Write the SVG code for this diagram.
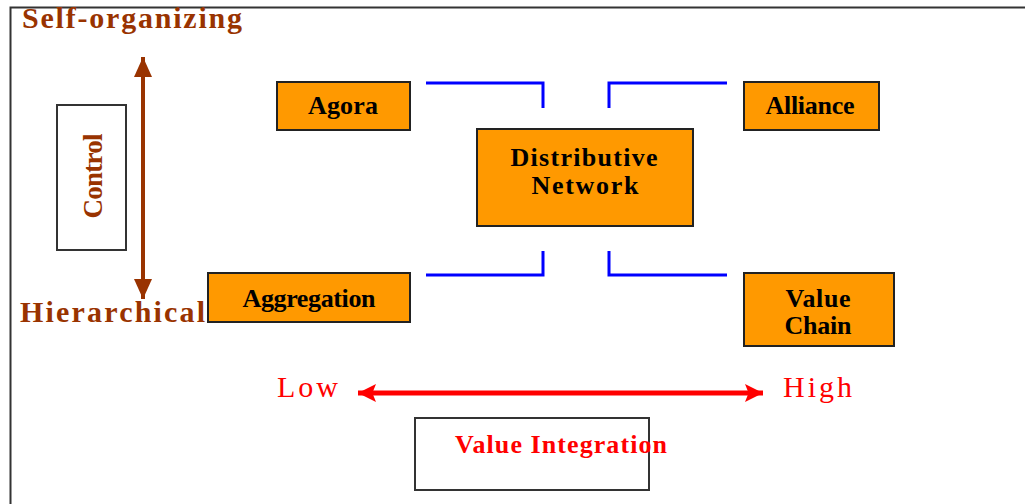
<svg xmlns="http://www.w3.org/2000/svg" width="1025" height="504" viewBox="0 0 1025 504">
  <style>
    .box { fill: #ff9900; stroke: #222; stroke-width: 2; }
    .plain { fill: #fff; stroke: #333; stroke-width: 2; }
    .lbl { font-family: "Liberation Serif", "Times New Roman", serif; font-weight: bold; font-size: 26px; fill: #000; text-anchor: middle; }
    .axis { font-family: "Liberation Serif", "Times New Roman", serif; font-weight: bold; font-size: 30px; fill: #993300; }
    .ctl { font-family: "Liberation Serif", "Times New Roman", serif; font-weight: bold; font-size: 27px; fill: #993300; text-anchor: middle; }
    .red { font-family: "Liberation Serif", "Times New Roman", serif; font-size: 30px; fill: #ff0000; }
    .link { fill: none; stroke: #0000ff; stroke-width: 3; }
  </style>
  <defs>
    <marker id="brownHead" viewBox="0 0 10 10" refX="10" refY="5" markerWidth="5" markerHeight="4.5" orient="auto-start-reverse" markerUnits="strokeWidth" preserveAspectRatio="none">
      <path d="M0,0 L10,5 L0,10 z" fill="#993300"/>
    </marker>
    <marker id="redHead" viewBox="0 0 10 10" refX="10" refY="5" markerWidth="3.6" markerHeight="3.6" orient="auto-start-reverse" markerUnits="strokeWidth" preserveAspectRatio="none">
      <path d="M0,0 L10,5 L0,10 L2,5 z" fill="#ff0000"/>
    </marker>
  </defs>

  <rect width="1025" height="504" fill="#fff"/>
  <!-- outer frame, open to the right and bottom -->
  <path d="M10.5,504 V7.5 H1025" fill="none" stroke="#333" stroke-width="2"/>

  <!-- control axis -->
  <g id="control-axis">
    <text class="axis" x="22" y="28" textLength="220" lengthAdjust="spacing">Self-organizing</text>
    <text class="axis" x="20" y="322" textLength="185" lengthAdjust="spacing">Hierarchical</text>
    <line x1="143" y1="57" x2="143" y2="299" stroke="#993300" stroke-width="4" marker-start="url(#brownHead)" marker-end="url(#brownHead)"/>
  </g>
  <g id="control">
    <rect class="plain" x="57" y="105" width="69" height="145"/>
    <text class="ctl" transform="translate(102,176) rotate(-90)" textLength="85" lengthAdjust="spacing">Control</text>
  </g>

  <!-- connectors around the central node -->
  <g id="connectors">
    <path class="link" d="M426,83 H543 V108"/>
    <path class="link" d="M609,108 V83 H727"/>
    <path class="link" d="M426,275 H543 V251"/>
    <path class="link" d="M609,251 V275 H727"/>
  </g>

  <g id="agora">
    <rect class="box" x="277" y="82" width="133" height="48"/>
    <text class="lbl" x="343" y="114" textLength="70" lengthAdjust="spacing">Agora</text>
  </g>
  <g id="alliance">
    <rect class="box" x="744" y="82" width="135" height="48"/>
    <text class="lbl" x="810" y="114" textLength="89" lengthAdjust="spacing">Alliance</text>
  </g>
  <g id="distributive-network">
    <rect class="box" x="477" y="129" width="216" height="97"/>
    <text class="lbl" x="584" y="166" textLength="147" lengthAdjust="spacing">Distributive</text>
    <text class="lbl" x="585" y="194" textLength="107" lengthAdjust="spacing">Network</text>
  </g>
  <g id="aggregation">
    <rect class="box" x="208" y="273" width="202" height="49"/>
    <text class="lbl" x="309" y="307" textLength="133" lengthAdjust="spacing">Aggregation</text>
  </g>
  <g id="value-chain">
    <rect class="box" x="744" y="273" width="150" height="73"/>
    <text class="lbl" x="818" y="307" textLength="65" lengthAdjust="spacing">Value</text>
    <text class="lbl" x="818" y="334" textLength="67" lengthAdjust="spacing">Chain</text>
  </g>

  <!-- value integration axis -->
  <g id="integration-axis">
    <text class="red" x="277" y="397" textLength="61" lengthAdjust="spacing">Low</text>
    <text class="red" x="783" y="397" textLength="69" lengthAdjust="spacing">High</text>
    <line x1="358" y1="393" x2="763" y2="393" stroke="#ff0000" stroke-width="5" marker-start="url(#redHead)" marker-end="url(#redHead)"/>
  </g>
  <g id="value-integration">
    <rect class="plain" x="415" y="418" width="234" height="72"/>
    <text class="lbl" x="561" y="453" style="fill:#ff0000" textLength="212" lengthAdjust="spacing">Value Integration</text>
  </g>
</svg>
